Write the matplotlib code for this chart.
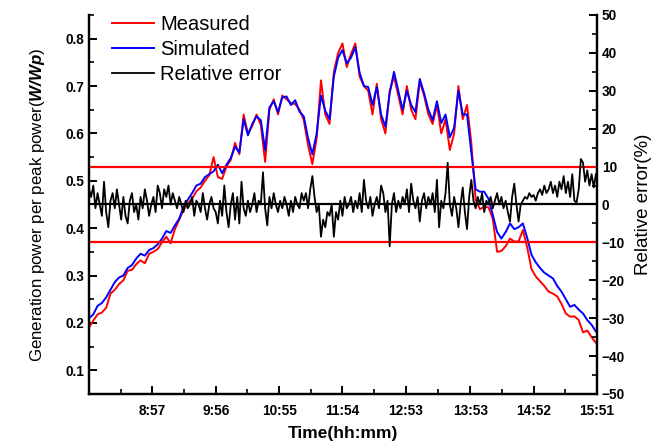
import numpy as np
import matplotlib
matplotlib.use('Agg')
import matplotlib.pyplot as plt

plt.rcParams['font.family'] = ['Liberation Sans', 'DejaVu Sans']
plt.rcParams['mathtext.fontset'] = 'custom'
plt.rcParams['mathtext.rm'] = 'Liberation Sans'
plt.rcParams['mathtext.it'] = 'Liberation Sans:italic'
plt.rcParams['mathtext.bf'] = 'Liberation Sans:bold'
plt.rcParams['mathtext.bfit'] = 'Liberation Sans:bold:italic'

# samples every 4 minutes from 7:58 (478 min) to 15:50
power_minutes = np.arange(478, 951, 4)
measured = [0.190, 0.205, 0.218, 0.222, 0.232, 0.262, 0.270, 0.282, 0.290, 0.310,
            0.312, 0.324, 0.332, 0.326, 0.346, 0.350, 0.356, 0.370, 0.382, 0.368,
            0.398, 0.418, 0.438, 0.452, 0.462, 0.478, 0.486, 0.500, 0.512, 0.550,
            0.508, 0.504, 0.530, 0.544, 0.580, 0.556, 0.640, 0.600, 0.616, 0.640,
            0.618, 0.540, 0.650, 0.672, 0.640, 0.680, 0.672, 0.664, 0.662, 0.650,
            0.628, 0.575, 0.535, 0.590, 0.712, 0.640, 0.620, 0.730, 0.770, 0.790,
            0.740, 0.768, 0.790, 0.720, 0.700, 0.690, 0.640, 0.705, 0.630, 0.600,
            0.690, 0.720, 0.680, 0.640, 0.700, 0.650, 0.630, 0.710, 0.680, 0.640,
            0.620, 0.660, 0.600, 0.630, 0.565, 0.600, 0.700, 0.630, 0.660, 0.580,
            0.460, 0.440, 0.445, 0.444, 0.420, 0.350, 0.352, 0.362, 0.378, 0.372,
            0.372, 0.396, 0.360, 0.314, 0.298, 0.288, 0.278, 0.266, 0.262, 0.256,
            0.240, 0.220, 0.213, 0.214, 0.206, 0.180, 0.184, 0.170, 0.158]
simulated = [0.210, 0.218, 0.236, 0.242, 0.254, 0.270, 0.286, 0.296, 0.300, 0.316,
             0.322, 0.336, 0.346, 0.342, 0.354, 0.358, 0.366, 0.378, 0.394, 0.390,
             0.406, 0.420, 0.445, 0.460, 0.474, 0.490, 0.494, 0.508, 0.514, 0.520,
             0.534, 0.516, 0.534, 0.548, 0.572, 0.560, 0.630, 0.596, 0.620, 0.636,
             0.628, 0.565, 0.655, 0.668, 0.645, 0.676, 0.678, 0.660, 0.670, 0.646,
             0.636, 0.590, 0.556, 0.600, 0.680, 0.648, 0.630, 0.720, 0.760, 0.776,
             0.748, 0.760, 0.782, 0.728, 0.700, 0.698, 0.660, 0.698, 0.640, 0.614,
             0.685, 0.730, 0.690, 0.650, 0.690, 0.660, 0.645, 0.715, 0.685, 0.650,
             0.628, 0.668, 0.622, 0.640, 0.592, 0.612, 0.690, 0.640, 0.640, 0.560,
             0.482, 0.477, 0.477, 0.462, 0.428, 0.392, 0.378, 0.392, 0.410, 0.398,
             0.402, 0.410, 0.380, 0.344, 0.328, 0.316, 0.306, 0.300, 0.294, 0.278,
             0.266, 0.250, 0.234, 0.238, 0.228, 0.220, 0.206, 0.196, 0.182]

# relative error sampled every 2 minutes
error_minutes = np.arange(478, 951, 2)
rel_error = [4, 2, 5, -1, 3, 0, -3, 6, -2, -6, 1, 3, -1, 4, 0, -4, 2, -3, -5, 1,
             3, -2, 0, -4, 2, -1, 4, 1, -3, 0, 2, -2, 5, 3, -1, 4, 2, 5, 0, 3, 1,
             -1, 2, 0, -2, 1, -1, 0, 2, -3, 1, 0, -2, 3, -1, -4, 0, 2, -1, -2,
             -5, 1, -3, 5, -2, -6, 0, 3, -4, 2, -5, 6, -1, -3, 1, -2, 0, 3, -2, 1, 0,
             8.5, -1, -5.5, 2, -1, 3, 0, -2, 1, -1, 2, 0, -3, 1, -2, 2, 0, -1, 3,
             1, 3, -1, 4, 7.5, 2, -2, 0, -8.5, -4, -6, -2, -3, 0, -8.5, -2, -4, 1, -3, 2, -1,
             0, 2, -2, 1, -1, 3, -2, 6.5, 1, -1, 2, -3, 0, 2, -1, 5, 3, -2, 1, -11,
             0, 3, -2, 1, -1, 2, 0, 4, -2, 5.5, 1, -1, 2, -4.5, 1, 3, -1, 2,
             0, 3, -2, 6.5, -6, 1, -1, 3, 11, 0, -3, 2, -1, -6, 0, 4.5, -2, -6.5, 2, 6.5, 1,
             -1, 2, 0, 3, -2, 1, 0, 2, -1, 1, 3, 0, 2, -1, 1, -2, -4.5, 2, 5.5, 0, -4.5,
             0, 1, 2, 1.5, 3, 2, 2.5, 1, 3, 4, 2.5, 5, 3, 4, 6, 3, 5, 2, 6,
             4, 7.5, 3, 6, 2, 8, 1, 0.5, 4, 12, 11, 6, 9, 5, 8, 4.5, 8]

tick_minutes = [537, 596, 655, 714, 773, 833, 892, 951]
tick_labels = ['8:57', '9:56', '10:55', '11:54', '12:53', '13:53', '14:52', '15:51']
error_limits = [10, -10]

fig = plt.figure(figsize=(6.51, 4.46), dpi=100)
ax = fig.add_axes([0.1367, 0.1166, 0.7803, 0.8498])
ax2 = ax.twinx()

l1, = ax.plot(power_minutes, measured, color='#ff0000', lw=1.4, label='Measured')
l2, = ax.plot(power_minutes, simulated, color='#0000ff', lw=1.4, label='Simulated')
for lim in error_limits:
    ax2.axhline(lim, color='#ff0000', lw=1.6)
ax2.axhline(0, color='black', lw=1.6)
l3, = ax2.plot(error_minutes, rel_error, color='black', lw=1.3, label='Relative error')

ax.set_xlim(478, 951)
ax.set_ylim(0.05, 0.85)
ax2.set_ylim(-50, 50)

ax.set_xticks(tick_minutes)
ax.set_xticklabels(tick_labels)
minor_x = [(a + b) / 2 for a, b in zip([478] + tick_minutes[:-1], tick_minutes)]
ax.set_xticks(minor_x, minor=True)
ax.set_yticks(np.arange(0.1, 0.81, 0.1))
ax.set_yticks(np.arange(0.15, 0.86, 0.1), minor=True)
ax2.set_yticks(np.arange(-50, 51, 10))
ax2.set_yticks(np.arange(-45, 50, 10), minor=True)

for a in (ax, ax2):
    a.spines['top'].set_visible(False)
    for s in a.spines.values():
        s.set_linewidth(1.6)
    a.tick_params(which='major', direction='in', length=6, width=1.4, labelsize=9.8)
    a.tick_params(which='minor', direction='in', length=3.5, width=1.2)
    for lab in a.get_xticklabels() + a.get_yticklabels():
        lab.set_fontweight('bold')
ax.tick_params(axis='x', pad=7)

ax.set_ylabel(r'Generation power per peak power($\mathbfit{W/Wp}$)', fontsize=12.2, labelpad=13)
ax2.set_ylabel('Relative error(%)', fontsize=13.5, labelpad=7)
ax.set_xlabel('Time(hh:mm)', fontsize=12.5, fontweight='bold', labelpad=6)

ax2.legend(handles=[l1, l2, l3], loc='upper left', bbox_to_anchor=(0.045, 1.0),
           frameon=False, fontsize=14.5, handlelength=2.1, handletextpad=0.3,
           labelspacing=0.3, borderpad=0, borderaxespad=0)

fig.savefig('out.png', dpi=100)
